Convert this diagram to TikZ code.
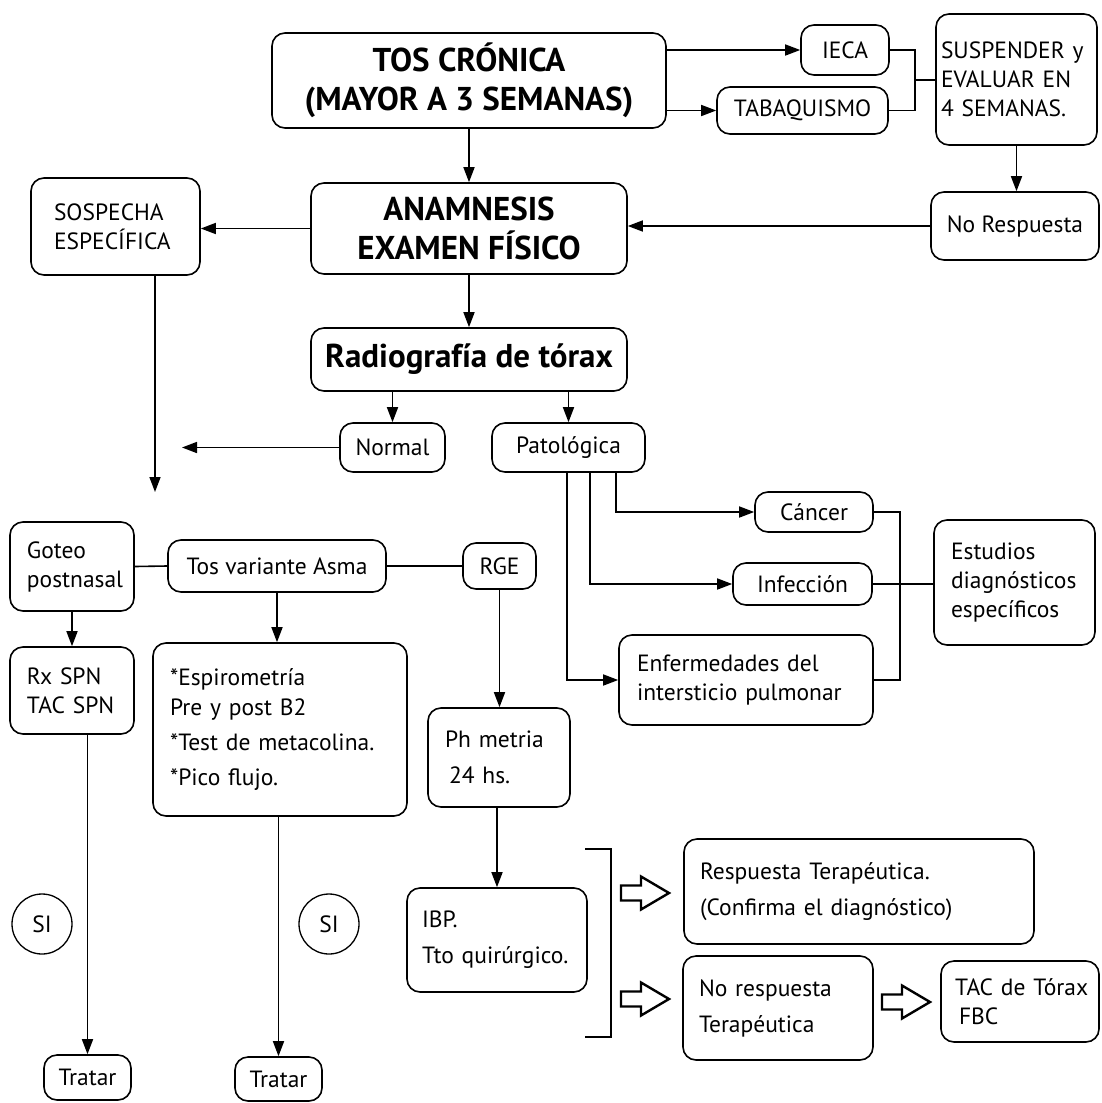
\documentclass[tikz,border=0pt]{standalone}
\usepackage{fontspec}
\setmainfont{PT Sans}
\usetikzlibrary{arrows.meta}
\begin{document}
\begin{tikzpicture}[x=1pt,y=-1pt,
  box/.style={draw,line width=1.6pt,rounded corners=13pt,inner sep=0pt,align=center,font=\fontsize{23.5}{29}\selectfont},
  lbox/.style={box,align=left,inner xsep=16pt},
  big/.style={box,font=\fontsize{33}{39}\selectfont\bfseries},
  wide/.style={font=\fontsize{23.5}{36}\selectfont},
  conn/.style={line width=1.6pt},
  arr/.style={conn,-{Triangle[length=15pt,width=11pt]}},
  hollow/.pic={\draw[line width=2.4pt] (0,-7.5) -- (20,-7.5) -- (20,-16.5) -- (48,0) -- (20,16.5) -- (20,7.5) -- (0,7.5) -- cycle;}]
\useasboundingbox (0,0) rectangle (1101,1103);
% top row
\node[big,minimum width=394pt,minimum height=95pt] (tos) at (469,80.5) {TOS CRÓNICA\\(MAYOR A 3 SEMANAS)};
\node[box,minimum width=88pt,minimum height=50pt] (ieca) at (845,50) {IECA};
\node[box,minimum width=171pt,minimum height=47pt] (tabaq) at (802.5,110.5) {TABAQUISMO};
\node[lbox,inner xsep=5pt,text width=151pt,minimum height=131pt] (susp) at (1016.5,79.5) {SUSPENDER~y\\EVALUAR~EN\\4~SEMANAS.};
\coordinate (jn) at (915,80);
\draw[arr] (ieca.west -| tos.east) -- (ieca.west);
\draw[arr] (tabaq.west -| tos.east) -- (tabaq.west);
\draw[conn] (ieca.east) -| (jn) |- (tabaq.east);
\draw[conn] (jn) -- (jn -| susp.west);
% anamnesis
\node[big,minimum width=316pt,minimum height=91pt] (anam) at (469,228.5) {ANAMNESIS\\EXAMEN FÍSICO};
\node[lbox,inner xsep=23pt,text width=123pt,minimum height=97pt] (sosp) at (115.5,226.5) {SOSPECHA\\ESPECÍFICA};
\node[box,minimum width=168pt,minimum height=68pt] (noresp) at (1015,226) {No Respuesta};
\coordinate (sospend) at (155,492);
\draw[arr] (tos.south) -- (anam.north);
\draw[arr] (susp.south) -- (susp.south |- noresp.north);
\draw[arr] (noresp.west) -- (noresp.west -| anam.east);
\draw[arr] (anam.west) -- (anam.west -| sosp.east);
\draw[arr] (sospend |- sosp.south) -- (sospend);
% radiografia
\node[big,minimum width=316pt,minimum height=63pt] (radio) at (469,359.5) {Radiografía de tórax};
\node[box,minimum width=105pt,minimum height=49pt] (normal) at (392.5,447.5) {Normal};
\node[box,minimum width=153pt,minimum height=49pt] (pato) at (568.5,447.5) {Patológica};
\coordinate (normend) at (182,447.5);
\draw[arr] (anam.south) -- (radio.north);
\draw[arr] (normal.north |- radio.south) -- (normal.north);
\draw[arr] (pato.north |- radio.south) -- (pato.north);
\draw[arr] (normal.west) -- (normend);
% patologica
\node[box,minimum width=118pt,minimum height=40pt] (cancer) at (814,512) {Cáncer};
\node[box,minimum width=139pt,minimum height=42pt] (infec) at (802.5,584) {Infección};
\node[lbox,inner xsep=18pt,text width=218pt,minimum height=90pt] (enfer) at (746,680) {Enfermedades~del\\intersticio~pulmonar};
\node[lbox,inner xsep=17pt,text width=127pt,minimum height=125pt] (estud) at (1014.5,582.5) {Estudios\\diagnósticos\\específicos};
\coordinate (bjoin) at (900,584);
\draw[arr] ([xshift=47.5pt]pato.south) |- (cancer.west);
\draw[arr] ([xshift=21.5pt]pato.south) |- (infec.west);
\draw[arr] ([xshift=-1.5pt]pato.south) |- (enfer.west);
\draw[conn] (cancer.east) -| (bjoin) |- (enfer.east);
\draw[conn] (infec.east) -- (infec.east -| estud.west);
% sospecha especifica
\node[lbox,inner xsep=17pt,text width=90pt,minimum height=89pt] (goteo) at (72,566.5) {Goteo\\postnasal};
\node[box,minimum width=218pt,minimum height=52pt] (tosasma) at (277,566) {Tos variante Asma};
\node[box,minimum width=73pt,minimum height=46pt] (rge) at (499.5,566) {RGE};
\draw[conn] (goteo.east) -- (tosasma.west);
\draw[conn] (tosasma.east) -- (rge.west);
\node[lbox,inner xsep=17pt,text width=90pt,minimum height=87pt] (rx) at (72,690.5) {Rx~SPN\\TAC~SPN};
\node[lbox,inner xsep=17pt,text width=220pt,minimum height=173pt,font=\fontsize{23.5}{30}\selectfont] (espiro) at (280,729.5) {*Espirometría\\Pre~y~post~B2\\[5pt]*Test~de~metacolina.\\[5pt]*Pico~flujo.};
\node[lbox,wide,inner xsep=17pt,text width=108pt,minimum height=99pt] (ph) at (499,757.5) {Ph~metria\\\hspace*{4pt}24~hs.};
\draw[arr] (goteo.south) -- (goteo.south |- rx.north);
\draw[arr] (tosasma.south) -- (tosasma.south |- espiro.north);
\draw[arr] (rge.south) -- (rge.south |- ph.north);
% tratar
\node[draw,circle,line width=1.3pt,minimum size=60pt,inner sep=0pt,font=\fontsize{23.5}{29}\selectfont] (si1) at (42,924) {SI};
\node[draw,circle,line width=1.3pt,minimum size=60pt,inner sep=0pt,font=\fontsize{23.5}{29}\selectfont] (si2) at (329,924) {SI};
\node[box,minimum width=87pt,minimum height=45pt] (tratar1) at (87.5,1077.5) {Tratar};
\node[box,minimum width=87pt,minimum height=44pt] (tratar2) at (278.5,1079) {Tratar};
\draw[arr] (tratar1.north |- rx.south) -- (tratar1.north);
\draw[arr] (tratar2.north |- espiro.south) -- (tratar2.north);
% RGE
\node[lbox,wide,inner xsep=15pt,text width=150pt,minimum height=104pt] (ibp) at (497,940) {IBP.\\Tto~quirúrgico.};
\draw[arr] (ibp.north |- ph.south) -- (ibp.north);
\draw[conn,line width=1.3pt] (585,849) -- (611,849) -- (611,1037) -- (585,1037);
\node[lbox,wide,inner xsep=16pt,text width=318pt,minimum height=105pt] (resp) at (859,891.5) {Respuesta~Terapéutica.\\(Confirma~el~diagnóstico)};
\node[lbox,wide,inner xsep=16pt,text width=158pt,minimum height=104pt] (noresp2) at (778,1008) {No~respuesta\\Terapéutica};
\node[lbox,inner xsep=14pt,text width=130pt,minimum height=81pt] (tac) at (1020,1001.5) {TAC~de~Tórax\\\hspace*{4pt}FBC};
\pic at (621,893) {hollow};
\pic at (621,999) {hollow};
\pic at (882,1002) {hollow};
\end{tikzpicture}
\end{document}
